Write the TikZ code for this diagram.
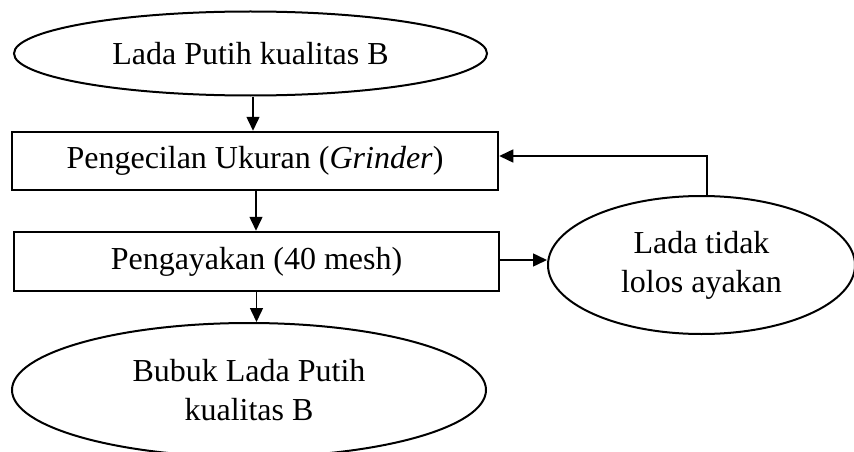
\documentclass[tikz,border=0pt]{standalone}
\usepackage{fontspec}
\setmainfont{Liberation Serif}
\usetikzlibrary{shapes.geometric,arrows.meta,calc}
\begin{document}
\begin{tikzpicture}[x=1pt,y=-1pt,
  every node/.style={font=\fontsize{32}{39}\selectfont, align=center, inner sep=0pt},
  oval/.style={draw, ellipse, line width=2pt},
  procbox/.style={draw, rectangle, line width=2.5pt},
  flow/.style={line width=1.5pt, -{Triangle[length=14pt,width=13pt]}}]
\useasboundingbox (0,0) rectangle (854,452);
\begin{scope}
\clip (0,0) rectangle (854,452);
\node[oval, minimum width=473pt, minimum height=84pt] (raw) at (250.5,53.5) {Lada Putih kualitas B};
\node[procbox, minimum width=486pt, minimum height=58pt] (grind) at (255,161) {Pengecilan Ukuran (\textit{Grinder})};
\node[procbox, minimum width=485pt, minimum height=59pt] (sieve) at (256.5,261.5) {Pengayakan (40 mesh)};
\node[oval, minimum width=307pt, minimum height=138pt] (reject) at (701.5,265) {Lada tidak\\lolos ayakan};
\node[oval, minimum width=474pt, minimum height=134pt] (powder) at (249,390) {Bubuk Lada Putih\\kualitas B};
\end{scope}
% start points of the connectors
\coordinate (s1) at ($(raw.south)+(2.5,0)$);
\coordinate (s2) at ($(grind.south)+(1,0)$);
\coordinate (s3) at (sieve.south);
\coordinate (s4) at ($(sieve.east)+(0,-1.5)$);
\coordinate (up) at ($(reject.north)+(5.5,0)$);
\coordinate (back) at ($(grind.east)+(0,-5)$);
\draw[flow] (s1) -- (s1 |- grind.north);
\draw[flow] (s2) -- (s2 |- sieve.north);
\draw[flow] (s3) -- (s3 |- powder.north);
\draw[flow] (s4) -- (s4 -| reject.west);
\draw[flow] (up) |- (back);
\end{tikzpicture}
\end{document}
